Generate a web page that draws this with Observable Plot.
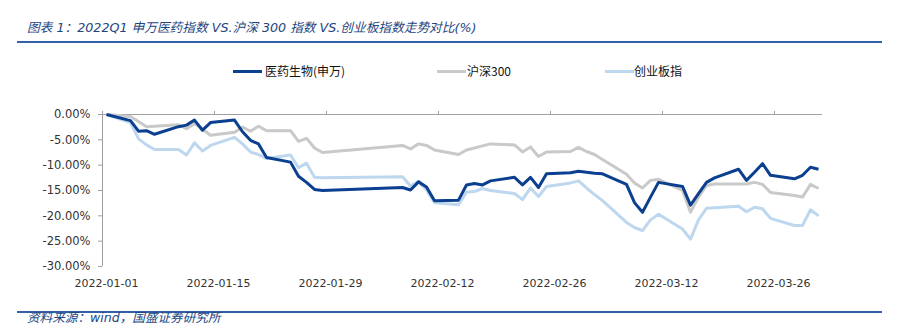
<!DOCTYPE html>
<html><head><meta charset="utf-8">
<script src="https://cdn.jsdelivr.net/npm/d3@7"></script>
<script src="https://cdn.jsdelivr.net/npm/@observablehq/plot@0.6"></script>
<style>
body{margin:0;background:#fff;}
#wrap{position:relative;width:899px;height:327px;overflow:hidden;background:#fff;}
.title{position:absolute;left:27px;top:20px;line-height:16px;font-style:italic;font-size:12.7px;font-family:"DejaVu Sans","Noto Sans CJK SC",sans-serif;color:#23457f;white-space:nowrap;}
.rule{position:absolute;left:17px;width:865px;height:2px;background:#3460a8;}
.caption{position:absolute;left:27px;top:310px;line-height:16px;font-style:italic;font-size:12.6px;font-family:"DejaVu Sans","Noto Sans CJK SC",sans-serif;color:#23457f;white-space:nowrap;}
.sw{position:absolute;height:3px;width:29px;top:69.5px;}
.lt{position:absolute;top:63px;line-height:16px;font-size:12px;font-family:"Noto Sans CJK SC",sans-serif;color:#111;white-space:nowrap;}
#chart{position:absolute;left:0;top:95px;}
</style>
</head><body>
<div id="wrap">
  <div class="title">图表 1：2022Q1 申万医药指数 VS.沪深 300 指数 VS.创业板指数走势对比(%)</div>
  <div class="rule" style="top:41px"></div>
  <div id="legend"></div>
  <div id="chart"></div>
  <div class="rule" style="top:311px"></div>
  <div class="caption">资料来源：wind，国盛证券研究所</div>
</div>
<script>
const dates = ["2022-01-01","2022-01-04","2022-01-05","2022-01-06","2022-01-07","2022-01-10","2022-01-11","2022-01-12","2022-01-13","2022-01-14","2022-01-17","2022-01-18","2022-01-19","2022-01-20","2022-01-21","2022-01-24","2022-01-25","2022-01-26","2022-01-27","2022-01-28","2022-02-07","2022-02-08","2022-02-09","2022-02-10","2022-02-11","2022-02-14","2022-02-15","2022-02-16","2022-02-17","2022-02-18","2022-02-21","2022-02-22","2022-02-23","2022-02-24","2022-02-25","2022-02-28","2022-03-01","2022-03-02","2022-03-03","2022-03-04","2022-03-07","2022-03-08","2022-03-09","2022-03-10","2022-03-11","2022-03-14","2022-03-15","2022-03-16","2022-03-17","2022-03-18","2022-03-21","2022-03-22","2022-03-23","2022-03-24","2022-03-25","2022-03-28","2022-03-29","2022-03-30","2022-03-31"];

const pharma = [0,-1.2,-3.3,-3.2,-3.9,-2.4,-2.1,-1.1,-3.1,-1.6,-1.1,-3.4,-5.1,-5.8,-8.5,-9.4,-12.2,-13.4,-14.8,-15.0,-14.4,-14.9,-13.3,-14.3,-17.0,-16.9,-13.9,-13.6,-13.9,-13.1,-12.4,-13.9,-12.4,-14.4,-11.7,-11.5,-11.2,-11.4,-11.6,-11.7,-13.8,-17.4,-19.3,-16.3,-13.4,-14.2,-17.9,-15.6,-13.4,-12.5,-10.8,-13.0,-11.4,-9.7,-12.0,-12.7,-12.0,-10.4,-10.8];

const hs300 = [0,-0.4,-1.4,-2.4,-2.3,-2.0,-2.8,-1.8,-2.9,-4.1,-3.5,-2.5,-3.3,-2.3,-3.2,-3.2,-5.3,-4.7,-6.6,-7.5,-6.1,-6.8,-5.8,-6.1,-7.0,-7.9,-7.0,-6.6,-6.2,-5.8,-6.0,-7.4,-6.4,-8.3,-7.4,-7.3,-6.5,-7.3,-7.9,-8.9,-11.8,-13.5,-14.5,-13.0,-12.8,-15.0,-19.3,-16.3,-14.0,-13.7,-13.7,-13.7,-13.4,-13.8,-15.4,-16.0,-16.3,-13.8,-14.6];

const chinext = [0,-1.6,-4.8,-6.0,-6.9,-6.9,-8.0,-5.6,-7.2,-6.1,-4.5,-5.8,-7.4,-7.9,-8.7,-8.0,-10.5,-9.6,-12.4,-12.5,-12.3,-14.1,-13.2,-14.9,-17.4,-17.8,-15.3,-15.2,-14.6,-15.0,-15.6,-16.8,-14.5,-16.2,-14.2,-13.5,-13.1,-14.5,-15.8,-17.0,-21.3,-22.3,-22.9,-20.8,-19.7,-22.6,-24.6,-20.8,-18.5,-18.4,-18.1,-19.2,-18.3,-18.6,-20.5,-21.9,-21.9,-18.8,-20.0];

const seriesNames = ["医药生物(申万)", "沪深300", "创业板指"];
const seriesColors = ["#0b3f8f", "#c9c9c9", "#bdd7ee"];
const xTickLabels = ["2022-01-01","2022-01-15","2022-01-29","2022-02-12","2022-02-26","2022-03-12","2022-03-26"];
const yTicks = [0,-5,-10,-15,-20,-25,-30];
const xDomain = ["2022-01-01","2022-04-01"];

const parse = d3.utcParse("%Y-%m-%d");
const fmt = d3.utcFormat("%Y-%m-%d");
const dayCenter = d => d3.utcHour.offset(d, 12);
const axisColor = "#a0a0a0";
const tickDates = xTickLabels.map(parse);

function rowsOf(vals){ return dates.map((d,i)=>({date: parse(d), value: vals[i]})); }
const allSeries = [pharma, hs300, chinext];
const drawOrder = [2,1,0];

const chart = Plot.plot({
  width: 899, height: 200,
  marginTop: 19, marginBottom: 29, marginLeft: 102, marginRight: 77,
  x: {type: "utc", domain: xDomain.map(parse)},
  y: {domain: [-30, 0]},
  style: {fontFamily: "DejaVu Sans, sans-serif", fontSize: "11.5px", color: "#333", background: "transparent", overflow: "visible"},
  marks: [
    Plot.ruleY([0], {stroke: axisColor, strokeWidth: 1}),
    Plot.ruleX([parse(xDomain[0])], {stroke: axisColor, strokeWidth: 1}),
    Plot.axisX(tickDates, {anchor: "top", tickSize: 4, tickFormat: () => "", stroke: axisColor, label: null}),
    Plot.axisY(yTicks, {anchor: "left", tickSize: 4, tickPadding: 8, tickFormat: d => d.toFixed(2) + "%", stroke: axisColor, fill: "#333", label: null}),
    Plot.text(tickDates, {x: dayCenter, frameAnchor: "bottom", dy: 17, text: d => fmt(d), fill: "#333", fontSize: 11, lineAnchor: "middle"}),
    ...drawOrder.map(i => Plot.line(rowsOf(allSeries[i]), {x: d => dayCenter(d.date), y: "value", stroke: seriesColors[i], strokeWidth: 3, strokeLinejoin: "round", strokeLinecap: "butt"}))
  ]
});
document.getElementById("chart").appendChild(chart);

const legendPos = [[233,265],[437,467],[605,634]];
const lg = document.getElementById("legend");
seriesNames.forEach((n,i)=>{
  const s = document.createElement("div"); s.className="sw"; s.style.left=legendPos[i][0]+"px"; s.style.background=seriesColors[i]; lg.appendChild(s);
  const t = document.createElement("div"); t.className="lt"; t.style.left=legendPos[i][1]+"px"; t.textContent=n; lg.appendChild(t);
});
</script>
</body></html>
